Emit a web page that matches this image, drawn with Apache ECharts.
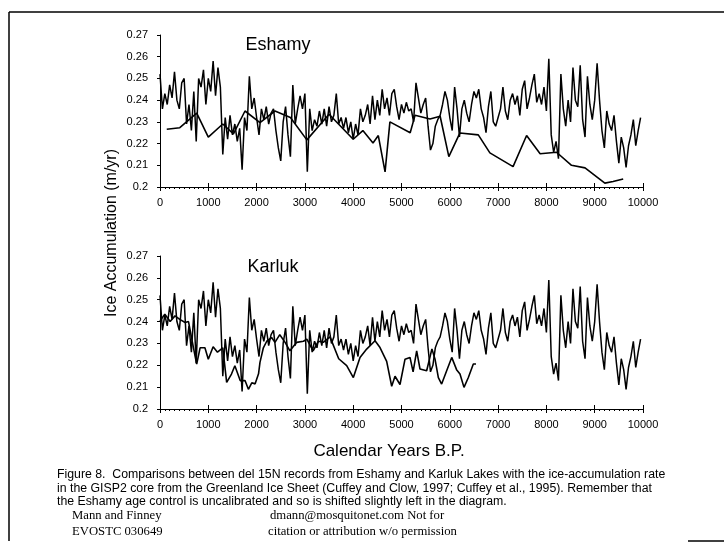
<!DOCTYPE html>
<html><head><meta charset="utf-8">
<script src="https://cdn.jsdelivr.net/npm/echarts/dist/echarts.min.js"></script>
<style>html,body{margin:0;padding:0;background:#fff}#c{width:724px;height:547px}</style>
</head><body><div id="c"></div>
<script>
// GISP2 ice accumulation (m/yr), sampled every 50 years from 0 to 10000 BP
const GISP_STEP = 50;
const gispValues = [
0.252,0.236,0.243,0.238,0.247,0.241,0.253,0.240,0.236,0.248,
0.250,0.229,0.238,0.226,0.244,0.221,0.250,0.246,0.254,0.238,
0.250,0.244,0.258,0.242,0.255,0.246,0.215,0.232,0.222,0.233,
0.224,0.229,0.221,0.227,0.208,0.232,0.226,0.251,0.236,0.241,
0.232,0.224,0.236,0.231,0.237,0.229,0.234,0.236,0.226,0.218,
0.212,0.230,0.237,0.224,0.214,0.247,0.229,0.236,0.242,0.236,
0.243,0.207,0.236,0.226,0.231,0.228,0.235,0.229,0.236,0.228,
0.237,0.230,0.233,0.243,0.229,0.232,0.227,0.232,0.225,0.230,
0.222,0.229,0.224,0.236,0.230,0.233,0.238,0.229,0.242,0.231,
0.240,0.233,0.245,0.236,0.241,0.233,0.243,0.245,0.237,0.231,
0.238,0.234,0.239,0.235,0.236,0.230,0.248,0.241,0.234,0.238,
0.241,0.228,0.217,0.220,0.228,0.231,0.233,0.238,0.244,0.240,
0.232,0.226,0.246,0.236,0.223,0.236,0.240,0.234,0.230,0.238,
0.244,0.241,0.245,0.236,0.232,0.225,0.237,0.244,0.230,0.228,
0.232,0.236,0.246,0.235,0.231,0.240,0.243,0.238,0.242,0.233,
0.245,0.249,0.236,0.241,0.247,0.252,0.239,0.243,0.238,0.246,
0.235,0.259,0.224,0.216,0.221,0.213,0.252,0.236,0.228,0.240,
0.230,0.255,0.240,0.237,0.256,0.231,0.223,0.251,0.238,0.231,
0.240,0.257,0.240,0.226,0.218,0.235,0.229,0.226,0.233,0.221,
0.211,0.223,0.218,0.209,0.219,0.224,0.231,0.219,0.226,0.232
];
// Eshamy Lake record (years BP, value)
const eshamyYears = [140,410,760,1000,1300,1520,1760,2070,2380,2700,3040,3500,4000,4200,4410,4520,4660,4760,5180,5280,5590,5800,5980,6210,6590,6830,7310,7590,7870,8210,8520,8800,9210,9380,9590];
const eshamyValues = [0.2266,0.2273,0.234,0.223,0.229,0.2245,0.235,0.2296,0.235,0.232,0.2217,0.2335,0.222,0.226,0.2203,0.2237,0.207,0.230,0.225,0.233,0.2313,0.2326,0.214,0.2249,0.224,0.2157,0.2094,0.2237,0.2153,0.216,0.210,0.2088,0.2018,0.2025,0.2037];
// Karluk Lake record (years BP, value)
const karlukYears = [0,100,210,310,410,520,590,725,760,830,930,1000,1100,1190,1300,1380,1480,1550,1660,1760,1830,1900,1970,2040,2070,2140,2210,2310,2380,2480,2590,2690,2830,2970,3040,3170,3280,3380,3520,3700,3865,4003,4141,4279,4452,4555,4693,4797,4866,4969,5073,5176,5240,5314,5383,5521,5630,5694,5763,5831,5935,6040,6140,6211,6294,6384,6487,6542];
const karlukValues = [0.2403,0.2434,0.240,0.2426,0.241,0.2396,0.240,0.2243,0.2205,0.228,0.228,0.2228,0.2285,0.226,0.228,0.2122,0.216,0.2198,0.213,0.213,0.209,0.212,0.2115,0.2161,0.2213,0.228,0.231,0.2327,0.2305,0.234,0.2305,0.2266,0.2305,0.231,0.232,0.2266,0.231,0.2305,0.233,0.223,0.2198,0.2144,0.2236,0.2274,0.2312,0.2281,0.2218,0.2104,0.2150,0.2112,0.2228,0.2236,0.217,0.2266,0.2183,0.2175,0.2275,0.2228,0.2144,0.2114,0.2175,0.2236,0.218,0.2160,0.2099,0.2144,0.2206,0.2206];

const xTicks = {min:0, max:10000, interval:1000};
const yTicks = {min:0.2, max:0.27, interval:0.01};
const panelTitles = ['Eshamy','Karluk'];
const yTitle = 'Ice Accumulation (m/yr)';
const xTitle = 'Calendar Years B.P.';
const captionLines = [
 'Figure 8.  Comparisons between del 15N records from Eshamy and Karluk Lakes with the ice-accumulation rate',
 'in the GISP2 core from the Greenland Ice Sheet (Cuffey and Clow, 1997; Cuffey et al., 1995). Remember that',
 'the Eshamy age control is uncalibrated and so is shifted slightly left in the diagram.'
];
const footLeft = ['Mann and Finney','EVOSTC 030649'];
const footRight = ['dmann@mosquitonet.com Not for','citation or attribution w/o permission'];

const gisp = gispValues.map((v,i)=>[i*GISP_STEP, v]);
const eshamy = eshamyYears.map((y,i)=>[y, eshamyValues[i]]);
const karluk = karlukYears.map((y,i)=>[y, karlukValues[i]]);

const FONT = 'Liberation Sans, Arial, sans-serif';
function xAx(idx){
  return {gridIndex:idx, type:'value', position:'bottom', min:xTicks.min, max:xTicks.max, interval:xTicks.interval,
    axisLine:{lineStyle:{color:'#000',width:1}},
    axisTick:{show:true, length:4, inside:false, lineStyle:{color:'#000'}},
    minorTick:{show:true, splitNumber:10, length:2, lineStyle:{color:'#000'}},
    splitLine:{show:false},
    axisLabel:{color:'#000', fontFamily:FONT, fontSize:11, margin:10, formatter:v=>String(v)}};
}
function xAxInner(idx){
  return {gridIndex:idx, type:'value', position:'bottom', min:xTicks.min, max:xTicks.max, interval:xTicks.interval,
    axisLine:{show:false}, axisLabel:{show:false}, splitLine:{show:false},
    axisTick:{show:true, inside:true, length:4, lineStyle:{color:'#000'}}};
}
function yAx(idx){
  return {gridIndex:idx, type:'value', min:yTicks.min, max:yTicks.max, interval:yTicks.interval,
    axisLine:{show:true, lineStyle:{color:'#000',width:1}},
    axisTick:{show:true, length:3, lineStyle:{color:'#000'}},
    splitLine:{show:false},
    axisLabel:{color:'#000', fontFamily:FONT, fontSize:11, margin:12, formatter:v=>String(+v.toFixed(2))}};
}
const lineS = (data, xi, w) => ({type:'line', data, xAxisIndex:xi, yAxisIndex:xi, symbol:'none',
  lineStyle:{color:'#000', width:w}, silent:true, z: 3});

const txt = (x,y,t,o) => Object.assign({type:'text', x, y, style:Object.assign({text:t, fill:'#000', font:'11px '+FONT}, o||{})});
const SERIF = '12.7px Liberation Serif, serif';
const graphics = [
  {type:'line', shape:{x1:9,y1:12,x2:9,y2:541}, style:{stroke:'#000', lineWidth:1.5}},
  {type:'line', shape:{x1:9,y1:12,x2:724,y2:12}, style:{stroke:'#000', lineWidth:1.5}},
  {type:'line', shape:{x1:688,y1:541,x2:724,y2:541}, style:{stroke:'#000', lineWidth:1.5}},
  txt(278,45,panelTitles[0],{font:'18px '+FONT, align:'center', verticalAlign:'middle'}),
  txt(273,267,panelTitles[1],{font:'18px '+FONT, align:'center', verticalAlign:'middle'}),
  {type:'text', x:112, y:233, rotation:Math.PI/2, style:{text:yTitle, fill:'#000', font:'16px '+FONT, align:'center', verticalAlign:'middle'}},
  txt(389,451,xTitle,{font:'17px '+FONT, align:'center', verticalAlign:'middle'}),
  txt(57,475,captionLines[0],{font:'12.3px '+FONT, verticalAlign:'middle'}),
  txt(57,489,captionLines[1],{font:'12.3px '+FONT, verticalAlign:'middle'}),
  txt(57,502,captionLines[2],{font:'12.3px '+FONT, verticalAlign:'middle'}),
  txt(72,516,footLeft[0],{font:SERIF, verticalAlign:'middle'}),
  txt(72,532,footLeft[1],{font:SERIF, verticalAlign:'middle'}),
  txt(270,516,footRight[0],{font:SERIF, verticalAlign:'middle'}),
  txt(268,532,footRight[1],{font:SERIF, verticalAlign:'middle'})
];

const chart = echarts.init(document.getElementById('c'), null, {renderer:'canvas'});
chart.setOption({
  animation:false,
  backgroundColor:'#fff',
  grid:[{left:160, top:35, width:483, height:152},{left:160, top:256, width:483, height:153}],
  xAxis:[xAx(0), xAx(1), xAxInner(0), xAxInner(1)],
  yAxis:[yAx(0), yAx(1)],
  series:[lineS(gisp,0,1.5), lineS(eshamy,0,1.6), lineS(gisp,1,1.5), lineS(karluk,1,1.6)],
  graphic:graphics
});
</script></body></html>
